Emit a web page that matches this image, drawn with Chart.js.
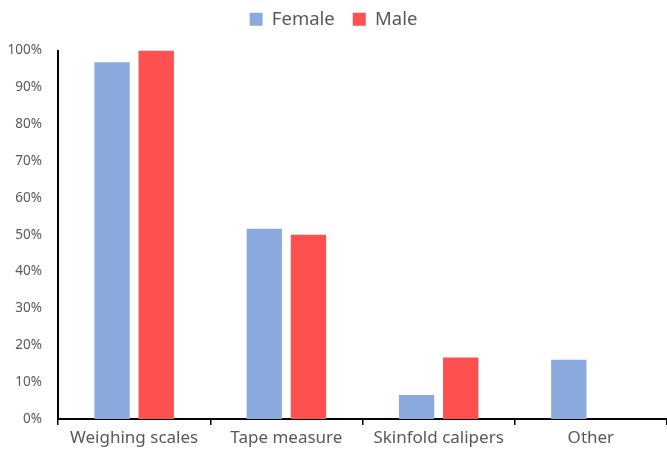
<!DOCTYPE html>
<html>
<head>
<meta charset="utf-8">
<script src="https://cdn.jsdelivr.net/npm/chart.js@4"></script>
<style>
  html, body { margin: 0; padding: 0; background: #fff; }
  #wrap { width: 667px; height: 453px; }
</style>
</head>
<body>
<div id="wrap"><canvas id="chart"></canvas></div>
<script>
// Share of respondents using each measurement method
const categories = ["Weighing scales", "Tape measure", "Skinfold calipers", "Other"];
const femaleValues = [96.8, 51.6, 6.5, 16.1];
const maleValues = [100, 50, 16.7, 0];
const yTicks = [0, 10, 20, 30, 40, 50, 60, 70, 80, 90, 100];

const textColor = "#595959";
const fontFamily = "'Noto Sans', 'Open Sans', sans-serif";

const ctx = document.getElementById("chart");

// Extra space below the legend
const legendMargin = {
  id: "legendMargin",
  beforeInit: function (chart) {
    const fit = chart.legend.fit;
    chart.legend.fit = function () {
      fit.bind(chart.legend)();
      this.height += 12;
    };
  },
};

new Chart(ctx, {
  type: "bar",
  data: {
    labels: categories,
    datasets: [
      {
        label: "Female",
        data: femaleValues,
        backgroundColor: "#8AA9DD",
        categoryPercentage: 0.58,
        barPercentage: 0.8,
      },
      {
        label: "Male",
        data: maleValues,
        backgroundColor: "#FF4F4F",
        categoryPercentage: 0.58,
        barPercentage: 0.8,
      },
    ],
  },
  plugins: [legendMargin],
  options: {
    responsive: true,
    maintainAspectRatio: false,
    animation: false,
    layout: {
      padding: { top: -8, right: 0, left: 0, bottom: 0 },
    },
    scales: {
      x: {
        grid: {
          display: true,
          drawOnChartArea: false,
          drawTicks: true,
          tickLength: 6,
          color: "#000",
          lineWidth: 1.5,
        },
        border: { color: "#000", width: 2 },
        ticks: {
          color: textColor,
          font: { family: fontFamily, size: 17 },
          padding: 3,
        },
        afterFit: function (scale) {
          scale.height = 34;
        },
      },
      y: {
        min: 0,
        max: 100,
        afterBuildTicks: function (scale) {
          scale.ticks = yTicks.map(function (v) { return { value: v }; });
        },
        grid: { display: false },
        border: { color: "#000", width: 2 },
        ticks: {
          color: textColor,
          font: { family: fontFamily, size: 13.5 },
          padding: 8,
          callback: function (value) {
            return value + "%";
          },
        },
        afterFit: function (scale) {
          scale.width = 58;
        },
      },
    },
    plugins: {
      legend: {
        position: "top",
        labels: {
          color: textColor,
          font: { family: fontFamily, size: 18.5 },
          boxWidth: 13,
          boxHeight: 13,
          padding: 18,
        },
      },
      tooltip: { enabled: false },
    },
  },
});
</script>
</body>
</html>
